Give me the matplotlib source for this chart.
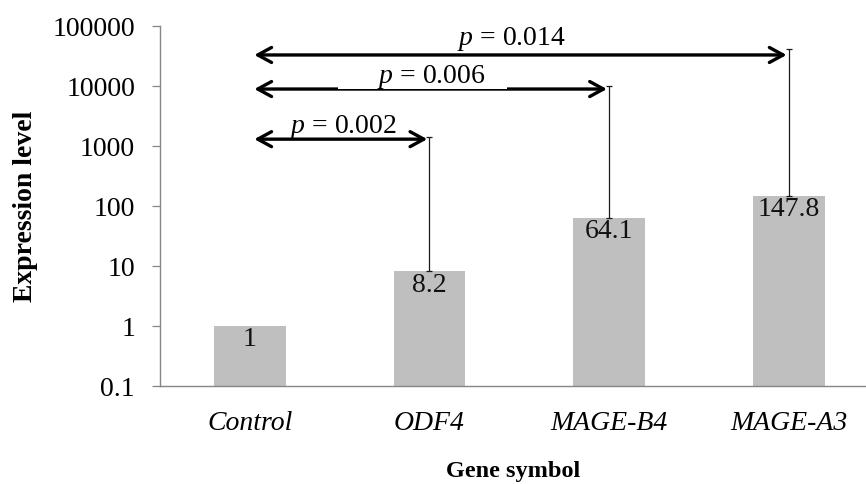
import matplotlib
matplotlib.use("Agg")
import matplotlib.pyplot as plt
from matplotlib.patches import Rectangle

plt.rcParams['font.family'] = ['Liberation Serif', 'DejaVu Serif']
plt.rcParams['mathtext.fontset'] = 'custom'
plt.rcParams['mathtext.rm'] = 'Liberation Serif'
plt.rcParams['mathtext.it'] = 'Liberation Serif:italic'

# data
genes = ['Control', 'ODF4', 'MAGE-B4', 'MAGE-A3']
expression = [1, 8.2, 64.1, 147.8]
error_top = [None, 1400, 10100, 41400]

# pairwise comparisons against Control: (target index, arrow height, p label)
comp_target = [1, 2, 3]
comp_height = [1300, 8900, 32900]
comp_label = ['0.002', '0.006', '0.014']
comp_text_x = [0.52, 1.01, 1.455]
comp_text_off = [4.5, 4.5, 7]

y_ticks = [0.1, 1, 10, 100, 1000, 10000, 100000]
y_tick_labels = ['0.1', '1', '10', '100', '1000', '10000', '100000']

fig = plt.figure(figsize=(8.66, 4.84), dpi=100)
ax = fig.add_axes([160 / 866, 1 - 386 / 484, 1 - 160 / 866, 360 / 484])

x = list(range(len(genes)))
ax.bar(x, expression, width=0.4, color='#BFBFBF', zorder=2)

for i, (v, top) in enumerate(zip(expression, error_top)):
    if top is None:
        continue
    ax.errorbar(i, v, yerr=[[0], [top - v]], fmt='none', ecolor='#1a1a1a',
                elinewidth=0.9, capsize=2, capthick=0.9, zorder=3)

for i, v in enumerate(expression):
    ax.annotate(f"{v:g}", xy=(i, v), xytext=(0, -1), textcoords='offset points',
                ha='center', va='top', fontsize=20, color='#111111', zorder=4)

for t, h, lab, tx, off in zip(comp_target, comp_height, comp_label,
                              comp_text_x, comp_text_off):
    ax.annotate('', xy=(t - 0.012, h), xytext=(0.025, h),
                arrowprops=dict(arrowstyle='<->,head_length=0.55,head_width=0.3',
                                color='black', lw=2.4, shrinkA=0, shrinkB=0,
                                mutation_scale=18),
                zorder=5)
    ax.annotate(r'$p$ = ' + lab, xy=(tx, h), xytext=(0, off),
                textcoords='offset points', ha='center', va='baseline',
                fontsize=20, color='black', zorder=7)

# the middle label's text box hides the top half of its arrow line
mid_h = comp_height[1]
ax.add_patch(Rectangle((comp_text_x[1] - 0.52, mid_h * 1.005),
                       0.94, mid_h * 0.6, facecolor='white',
                       edgecolor='none', zorder=6))

ax.set_yscale('log')
ax.set_ylim(0.1, 100000)
ax.set_yticks(y_ticks)
ax.set_yticklabels(y_tick_labels)
ax.minorticks_off()
ax.set_xlim(-0.5, 3.43)
ax.set_xticks(x)
ax.set_xticklabels(genes, style='italic')

ax.tick_params(axis='y', length=6, width=0.9, color='#868686', pad=12,
               labelsize=20)
ax.tick_params(axis='x', length=0, pad=18, labelsize=20)

for side in ['top', 'right']:
    ax.spines[side].set_visible(False)
for side in ['left', 'bottom']:
    ax.spines[side].set_color('#868686')
    ax.spines[side].set_linewidth(1.0)

ax.set_xlabel('Gene symbol', fontsize=17.5, fontweight='bold', labelpad=18)
ax.set_ylabel('Expression level', fontsize=20, fontweight='bold', labelpad=10)

fig.savefig('out.png', dpi=100)
plt.close(fig)
